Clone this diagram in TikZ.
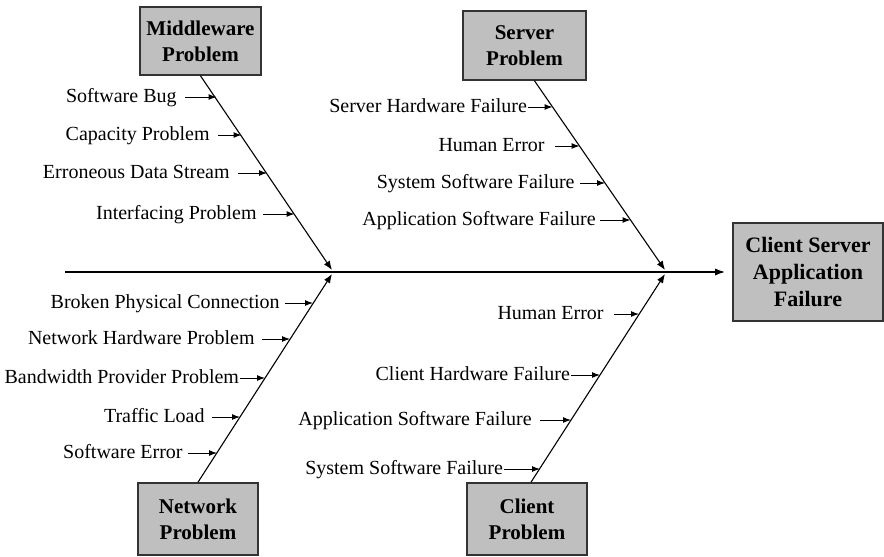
\documentclass[tikz,border=0pt]{standalone}
\usepackage{fontspec}
\setmainfont{Liberation Serif}
\usetikzlibrary{arrows.meta}
\begin{document}
\begin{tikzpicture}[x=0.5pt,y=-0.5pt,
  catbox/.style={draw=black!80, line width=0.8pt, fill=black!25, align=center,
    font=\fontsize{10.5}{13}\selectfont\bfseries, inner sep=0pt},
  lab/.style={anchor=east, inner ysep=0pt, inner xsep=0pt, font=\fontsize{10}{12}\selectfont,
    text height=0.68em, text depth=0.18em},
  tip/.style={-{Latex[length=4pt,width=3pt]}, line width=0.5pt},
  bone/.style={-{Latex[length=4.5pt,width=3.5pt]}, line width=0.55pt},
  spine/.style={-{Latex[length=5pt,width=3.5pt]}, line width=0.7pt}]
\useasboundingbox (0,0) rectangle (884,557);

% category boxes
\node[catbox, minimum width=60.5pt, minimum height=34pt] (mw) at (200.5,41) {Middleware\\Problem};
\node[catbox, minimum width=61.5pt, minimum height=34.5pt] (sv) at (524.5,45.5) {Server\\Problem};
\node[catbox, minimum width=60pt, minimum height=36pt] (nw) at (198,519) {Network\\Problem};
\node[catbox, minimum width=60pt, minimum height=36pt] (cl) at (527,519) {Client\\Problem};
\node[catbox, minimum width=75pt, minimum height=49pt, font=\fontsize{11}{13.5}\selectfont\bfseries] (cs) at (808,272) {Client Server\\Application\\Failure};

% spine and bones
\coordinate (tail) at (65,272);
\coordinate (j1a) at (332,270);
\coordinate (j1b) at (332,274);
\coordinate (j2a) at (665,270);
\coordinate (j2b) at (665,274);
\coordinate (sv0) at ([xshift=5pt]sv.south);
\coordinate (cl0) at ([xshift=2pt]cl.north);
\draw[spine, shorten >=3.5pt] (tail) -- (cs.west);
\draw[bone] (mw.south) -- (j1a);
\draw[bone] (nw.north) -- (j1b);
\draw[bone] (sv0) -- (j2a);
\draw[bone] (cl0) -- (j2b);

% middleware causes
\node[lab, inner xsep=4pt] (m1) at (185,97) {Software Bug};
\node[lab, inner xsep=4pt] (m2) at (218,135) {Capacity Problem};
\node[lab, inner xsep=4pt] (m3) at (238,173) {Erroneous Data Stream};
\node[lab, inner xsep=3pt] (m4) at (263,214) {Interfacing Problem};
\coordinate (bm1) at (216.5,97);
\coordinate (bm2) at (241.5,135);
\coordinate (bm3) at (267,173);
\coordinate (bm4) at (294.5,214);
\draw[tip] (m1.east) -- (bm1);
\draw[tip] (m2.east) -- (bm2);
\draw[tip] (m3.east) -- (bm3);
\draw[tip] (m4.east) -- (bm4);

% server causes
\node[lab, inner xsep=0.3pt] (s1) at (528,107) {Server Hardware Failure};
\node[lab, inner xsep=5pt] (s2) at (555,146) {Human Error};
\node[lab, inner xsep=2.5pt] (s3) at (580,183) {System Software Failure};
\node[lab, inner xsep=2pt] (s4) at (600,220) {Application Software Failure};
\coordinate (bs1) at (552.5,107);
\coordinate (bs2) at (579.5,146);
\coordinate (bs3) at (605,183);
\coordinate (bs4) at (630.5,220);
\draw[tip] (s1.east) -- (bs1);
\draw[tip] (s2.east) -- (bs2);
\draw[tip] (s3.east) -- (bs3);
\draw[tip] (s4.east) -- (bs4);

% network causes
\node[lab, inner xsep=2.5pt] (n1) at (285,303) {Broken Physical Connection};
\node[lab, inner xsep=3.5pt] (n2) at (262,339) {Network Hardware Problem};
\node[lab, inner xsep=0.3pt] (n3) at (240,378) {Bandwidth Provider Problem};
\node[lab, inner xsep=3.5pt] (n4) at (212,417) {Traffic Load};
\node[lab, inner xsep=2.5pt] (n5) at (188,453) {Software Error};
\coordinate (bn1) at (313,303);
\coordinate (bn2) at (290,339);
\coordinate (bn3) at (265,378);
\coordinate (bn4) at (240,417);
\coordinate (bn5) at (217,453);
\draw[tip] (n1.east) -- (bn1);
\draw[tip] (n2.east) -- (bn2);
\draw[tip] (n3.east) -- (bn3);
\draw[tip] (n4.east) -- (bn4);
\draw[tip] (n5.east) -- (bn5);

% client causes
\node[lab, inner xsep=5pt] (c1) at (614,314) {Human Error};
\node[lab, inner xsep=0.3pt] (c2) at (571,375) {Client Hardware Failure};
\node[lab, inner xsep=4pt] (c3) at (540,420) {Application Software Failure};
\node[lab, inner xsep=0.3pt] (c4) at (504,469) {System Software Failure};
\coordinate (bc1) at (639,314);
\coordinate (bc2) at (600,375);
\coordinate (bc3) at (571,420);
\coordinate (bc4) at (540,469);
\draw[tip] (c1.east) -- (bc1);
\draw[tip] (c2.east) -- (bc2);
\draw[tip] (c3.east) -- (bc3);
\draw[tip] (c4.east) -- (bc4);
\end{tikzpicture}
\end{document}
